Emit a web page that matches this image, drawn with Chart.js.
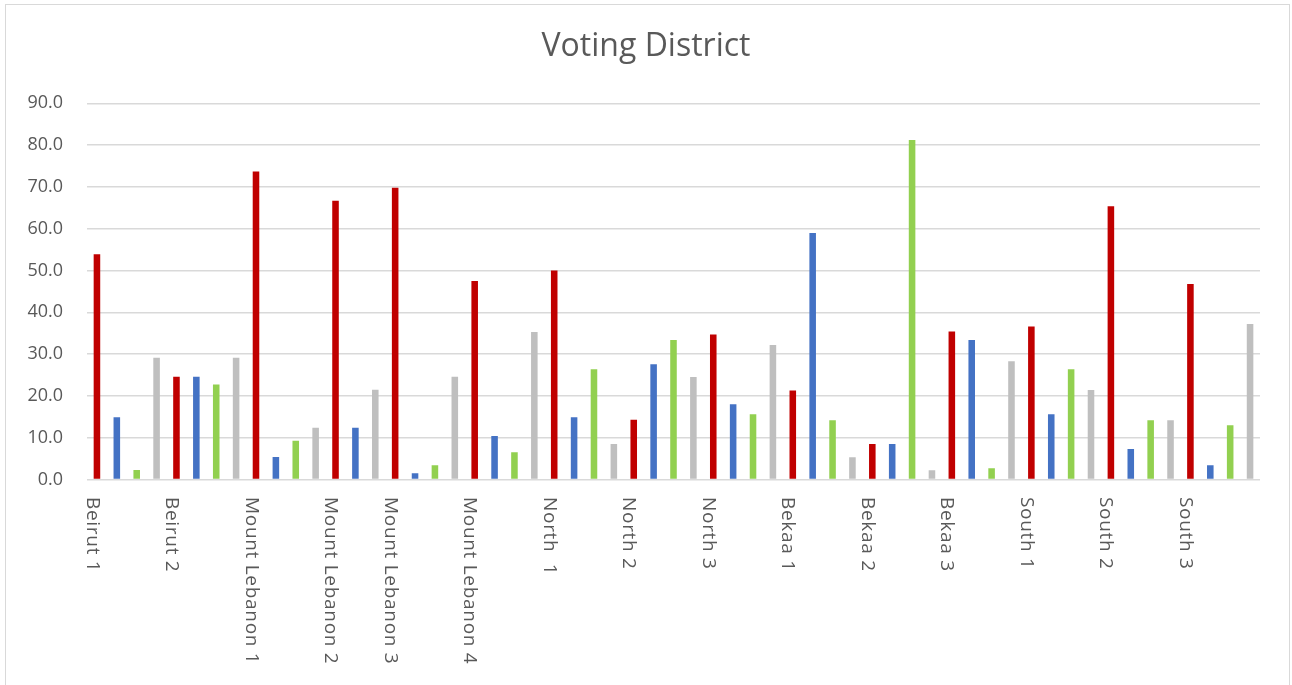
<!DOCTYPE html>
<html>
<head>
<meta charset="utf-8">
<script src="https://cdn.jsdelivr.net/npm/chart.js@4.4.1/dist/chart.umd.min.js"></script>
<style>
  html, body { margin: 0; padding: 0; background: #fff; }
  #wrap { position: relative; width: 1292px; height: 685px; overflow: hidden; }
  #frame {
    position: absolute; left: 5px; top: 4px; width: 1285px; height: 700px;
    border: 1.5px solid #d9d9d9; box-sizing: border-box;
  }
  #chart { position: absolute; left: 0; top: 0; }
</style>
</head>
<body>
<div id="wrap">
  <div id="frame"></div>
  <canvas id="chart" width="1292" height="685"></canvas>
</div>
<script>
"use strict";

const chartTitle = "Voting District";

const districts = [
  "Beirut 1", "Beirut 2", "Mount Lebanon 1", "Mount Lebanon 2", "Mount Lebanon 3",
  "Mount Lebanon 4", "North  1", "North 2", "North 3", "Bekaa 1", "Bekaa 2",
  "Bekaa 3", "South 1", "South 2", "South 3"
];

// one value per district for each colour group (null = no bar for that district)
const redValues   = [53.9, 24.6, 73.7, 66.7, 69.8, 47.5, 50.0, 14.3, 34.7, 21.3, 8.5, 35.4, 36.6, 65.4, 46.8];
const blueValues  = [14.9, 24.6, 5.4, 12.4, 1.5, 10.4, 14.9, 27.6, 18.0, 59.0, 8.5, 33.4, 15.6, 7.3, 3.4];
const greenValues = [2.3, 22.7, 9.3, null, 3.4, 6.5, 26.4, 33.4, 15.6, 14.2, 81.2, 2.7, 26.4, 14.2, 13.0];
const grayValues  = [29.1, 29.1, 12.4, 21.5, 24.6, 35.3, 8.5, 24.5, 32.2, 5.3, 2.2, 28.3, 21.4, 14.2, 37.2];

const yTicks = { min: 0, max: 90, step: 10 };

const groups = [
  { values: redValues,   color: "#C00000" },
  { values: blueValues,  color: "#4472C4" },
  { values: greenValues, color: "#92D050" },
  { values: grayValues,  color: "#BFBFBF" }
];

// every bar gets its own slot on the x axis; the district name sits on the first slot
const labels = [];
const slotData = groups.map(() => []);
districts.forEach((name, d) => {
  let first = true;
  groups.forEach((g, gi) => {
    const v = g.values[d];
    if (v === null) return;
    labels.push(first ? name : "");
    first = false;
    groups.forEach((_, k) => slotData[k].push(k === gi ? v : null));
  });
});

const datasets = groups.map((g, gi) => ({
  data: slotData[gi],
  backgroundColor: g.color,
  borderWidth: 0,
  grouped: false,
  categoryPercentage: 1,
  barPercentage: 0.33
}));

// title centred on the whole canvas, not on the padded layout box
const centeredTitle = {
  id: "centeredTitle",
  afterDraw(chart) {
    const ctx = chart.ctx;
    ctx.save();
    ctx.font = "32px 'Open Sans'";
    ctx.fillStyle = "#595959";
    ctx.textAlign = "center";
    ctx.textBaseline = "alphabetic";
    ctx.fillText(chartTitle, chart.width / 2, 56);
    ctx.restore();
  }
};

// district names drawn top-to-bottom under their slot
const verticalLabels = {
  id: "verticalLabels",
  afterDraw(chart) {
    const ctx = chart.ctx;
    const xs = chart.scales.x;
    ctx.save();
    ctx.font = "19px 'Open Sans'";
    ctx.fillStyle = "#595959";
    ctx.textAlign = "left";
    ctx.textBaseline = "middle";
    ctx.letterSpacing = "0.7px";
    chart.data.labels.forEach((lab, i) => {
      if (!lab) return;
      const x = xs.getPixelForValue(i) - 5;
      ctx.save();
      ctx.translate(x, chart.chartArea.bottom + 17.5);
      ctx.rotate(Math.PI / 2);
      ctx.fillText(lab, 0, 0);
      ctx.restore();
    });
    ctx.restore();
  }
};

new Chart(document.getElementById("chart"), {
  type: "bar",
  data: { labels: labels, datasets: datasets },
  options: {
    responsive: false,
    animation: false,
    layout: { padding: { left: 10, right: 32, top: 103.3, bottom: 10 } },
    plugins: {
      legend: { display: false },
      tooltip: { enabled: false },
      title: { display: false }
    },
    scales: {
      x: {
        offset: true,
        grid: { display: false },
        border: { display: false },
        ticks: { display: false },
        afterFit(scale) { scale.height = 195.5; }
      },
      y: {
        min: yTicks.min,
        max: yTicks.max,
        border: { display: false },
        grid: { color: "#d9d9d9", lineWidth: 1.5, drawTicks: false },
        ticks: {
          stepSize: yTicks.step,
          padding: 24,
          color: "#595959",
          font: { family: "'Open Sans'", size: 18 },
          callback: v => v.toFixed(1)
        },
        afterFit(scale) { scale.width = 77; }
      }
    }
  },
  plugins: [centeredTitle, verticalLabels]
});
</script>
</body>
</html>
